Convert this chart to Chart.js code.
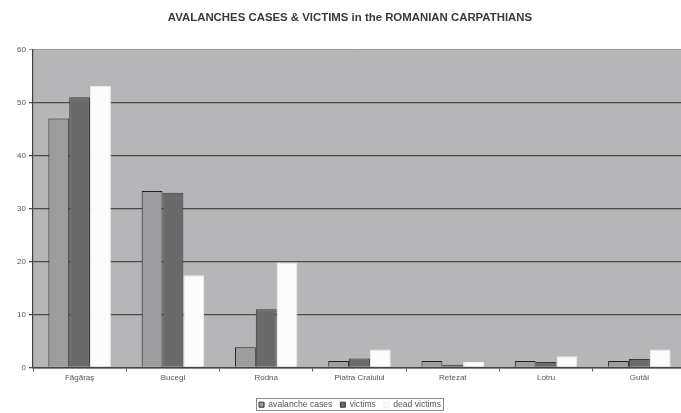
<!DOCTYPE html>
<html>
<head>
<meta charset="utf-8">
<script src="https://cdn.jsdelivr.net/npm/chart.js@4/dist/chart.umd.min.js"></script>
<style>
  html, body { margin: 0; padding: 0; background: #fff; overflow: hidden; }
  #wrap { width: 700px; height: 413px; position: relative; }
</style>
</head>
<body>
<div id="wrap"><canvas id="avalanche-chart"></canvas></div>
<script>
// avalanche statistics per mountain range
var ranges = ["Făgăraş", "Bucegi", "Rodna", "Piatra Craiului", "Retezat", "Lotru", "Gutâi"];
var avalancheCases = [47, 33.3, 3.8, 1.2, 1.2, 1.2, 1.2];
var victims = [51, 33, 11, 1.7, 0.5, 1, 1.6];
var deadVictims = [53.2, 17.4, 19.8, 3.4, 1, 2.1, 3.4];
var yTicks = [0, 10, 20, 30, 40, 50, 60];

var FONT = "'Liberation Sans', Arial, sans-serif";

// grey plot background + framed legend
var plotFrame = {
  id: "plotFrame",
  beforeDraw: function (chart) {
    var a = chart.chartArea;
    var ctx = chart.ctx;
    ctx.save();
    ctx.fillStyle = "#b6b6b8";
    ctx.fillRect(a.left, a.top, a.right - a.left, a.bottom - a.top);
    ctx.restore();
  },
  afterDraw: function (chart) {
    var lg = chart.legend;
    if (!lg) return;
    var items = lg.legendHitBoxes;
    if (!items.length) return;
    var x0 = items[0].left - 3;
    var last = items[items.length - 1];
    var x1 = last.left + last.width + 2;
    var y0 = items[0].top - 2;
    var y1 = items[0].top + items[0].height + 1;
    var ctx = chart.ctx;
    ctx.save();
    ctx.strokeStyle = "#8a8a8a";
    ctx.lineWidth = 1;
    ctx.strokeRect(Math.round(x0) + 0.5, Math.round(y0) + 0.5, Math.round(x1 - x0), Math.round(y1 - y0));
    ctx.restore();
  }
};

new Chart(document.getElementById("avalanche-chart"), {
  type: "bar",
  data: {
    labels: ranges,
    datasets: [
      {
        label: "avalanche cases",
        data: avalancheCases,
        backgroundColor: "#9d9d9f",
        borderColor: "#222",
        borderWidth: 1,
        categoryPercentage: 0.67,
        barPercentage: 1.0
      },
      {
        label: "victims",
        data: victims,
        backgroundColor: "#6a6a6c",
        borderColor: "#3a3a3a",
        borderWidth: 1,
        categoryPercentage: 0.67,
        barPercentage: 1.0
      },
      {
        label: "dead victims",
        data: deadVictims,
        backgroundColor: "#fcfcfc",
        borderColor: "#f0f0f0",
        borderWidth: 1,
        categoryPercentage: 0.67,
        barPercentage: 1.0
      }
    ]
  },
  options: {
    responsive: true,
    maintainAspectRatio: false,
    animation: false,
    layout: { padding: { left: 14, right: 14, top: 0, bottom: -6 } },
    plugins: {
      title: {
        display: true,
        text: "AVALANCHES CASES & VICTIMS in the ROMANIAN CARPATHIANS",
        color: "#3a3a3a",
        font: { family: FONT, size: 11.4, weight: "bold" },
        padding: { top: 11, bottom: 25 }
      },
      legend: {
        position: "bottom",
        labels: {
          color: "#555",
          font: { family: FONT, size: 8.6 },
          boxWidth: 5,
          boxHeight: 5,
          padding: 8,
          generateLabels: function (chart) {
            return chart.data.datasets.map(function (ds, i) {
              return {
                text: ds.label,
                fillStyle: ds.backgroundColor,
                strokeStyle: i === 2 ? "#eee" : "#333",
                lineWidth: 1,
                datasetIndex: i,
                fontColor: "#555"
              };
            });
          }
        }
      },
      tooltip: { enabled: false }
    },
    scales: {
      x: {
        grid: {
          offset: true,
          drawOnChartArea: false,
          color: "#555",
          tickLength: 4
        },
        border: { color: "#444", width: 1.5 },
        ticks: {
          color: "#555",
          font: { family: FONT, size: 8 },
          padding: 2,
          maxRotation: 0
        },
        afterFit: function (scale) { scale.height = 25; }
      },
      y: {
        min: 0,
        max: 60,
        afterBuildTicks: function (scale) {
          scale.ticks = yTicks.map(function (v) { return { value: v }; });
        },
        grid: {
          color: function (c) { return c.tick && c.tick.value === 60 ? "#98989a" : "#4a4a4a"; },
          lineWidth: function (c) { return c.tick && c.tick.value === 60 ? 1 : 1.3; },
          tickLength: 4
        },
        border: { color: "#444", width: 1.2 },
        ticks: {
          color: "#555",
          font: { family: FONT, size: 8 },
          padding: 3
        },
        afterFit: function (scale) { scale.width = 19; }
      }
    }
  },
  plugins: [plotFrame]
});
</script>
</body>
</html>
